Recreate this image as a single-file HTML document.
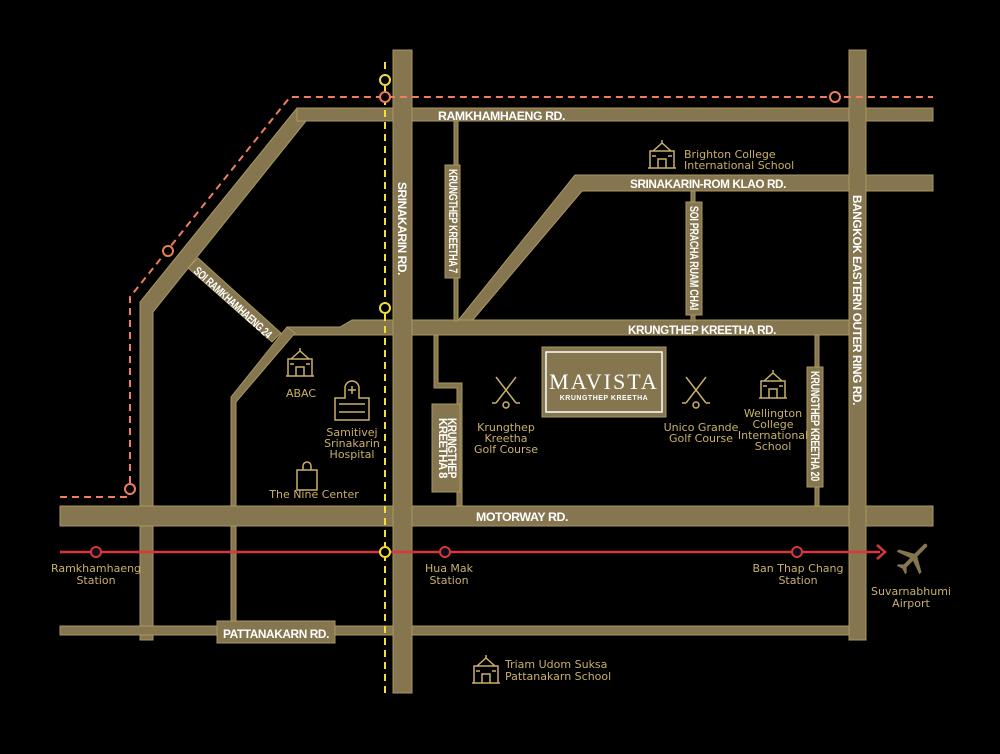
<!DOCTYPE html>
<html><head><meta charset="utf-8"><style>
html,body{margin:0;padding:0;background:#000;}
svg{display:block}
.rl{font-family:"Liberation Sans",sans-serif;font-weight:bold;fill:#fff;font-size:11.8px;letter-spacing:-0.4px}
.lb{font-family:"DejaVu Sans",sans-serif;fill:#c9b06a;font-size:11px;text-anchor:middle}
</style></head><body>
<svg width="1000" height="754" viewBox="0 0 1000 754" xmlns="http://www.w3.org/2000/svg">
<rect width="1000" height="754" fill="#000"/>
<g fill="#857650" stroke="#a8975f" stroke-width="1">
<polygon points="297,108 400,108 400,121 306,121 153,312 153,640 140,640 140,302"/>
<rect x="297" y="108" width="636" height="13"/>
<polygon points="575,175 933,175 933,191 582,191 466,328 452,328"/>
<polygon points="352,320 849,320 849,335 287,335 287,327 340,327"/>
<polygon points="188,268 198,258 281,333 272,342"/>
<polygon points="287,327 295,333 236,402 236,640 231,640 231,397"/>
<rect x="60" y="506" width="873" height="20"/>
<rect x="60" y="626" width="806" height="9"/>
<rect x="217" y="621" width="118" height="22"/>
<rect x="454" y="121" width="4" height="200"/>
<rect x="445" y="165" width="15" height="113"/>
<rect x="691" y="191" width="4" height="130"/>
<rect x="686" y="202" width="16" height="113"/>
<rect x="815" y="335" width="4" height="171"/>
<rect x="807" y="367" width="16" height="120"/>
<polygon points="434,335 438,335 438,383 462,383 462,506 457,506 457,388 434,388"/>
<rect x="432" y="404" width="28" height="88"/>
<rect x="393" y="50" width="19" height="643"/>
<rect x="849" y="50" width="17" height="590"/>
</g>
<rect x="542" y="347" width="124" height="70" fill="#857650" stroke="#a8975f"/>
<rect x="546" y="352" width="116" height="60" fill="none" stroke="#fff" stroke-width="1.5"/>
<text x="604" y="389" text-anchor="middle" font-family="Liberation Serif,serif" font-size="22" fill="#fff" letter-spacing="2">MAVISTA</text>
<text x="604" y="400" text-anchor="middle" font-family="Liberation Sans,sans-serif" font-weight="bold" font-size="7" fill="#fff" letter-spacing="0.5">KRUNGTHEP KREETHA</text>
<text class="rl" x="438" y="120" textLength="127" lengthAdjust="spacingAndGlyphs">RAMKHAMHAENG RD.</text>
<text class="rl" x="630" y="188" textLength="156" lengthAdjust="spacingAndGlyphs">SRINAKARIN-ROM KLAO RD.</text>
<text class="rl" x="628" y="334" textLength="148" lengthAdjust="spacingAndGlyphs">KRUNGTHEP KREETHA RD.</text>
<text class="rl" x="476" y="521" textLength="92" lengthAdjust="spacingAndGlyphs">MOTORWAY RD.</text>
<text class="rl" x="223" y="638" font-size="12" textLength="106" lengthAdjust="spacingAndGlyphs">PATTANAKARN RD.</text>
<text class="rl" transform="translate(398,182) rotate(90)" font-size="12" textLength="93" lengthAdjust="spacingAndGlyphs">SRINAKARIN RD.</text>
<text class="rl" transform="translate(853,195) rotate(90)" font-size="12" textLength="210" lengthAdjust="spacingAndGlyphs">BANGKOK EASTERN OUTER RING RD.</text>
<text class="rl" font-size="8" transform="translate(449,169) rotate(90)" textLength="104" lengthAdjust="spacingAndGlyphs">KRUNGTHEP KREETHA 7</text>
<text class="rl" font-size="8" transform="translate(690,206) rotate(90)" textLength="104" lengthAdjust="spacingAndGlyphs">SOI PRACHA RUAM CHAI</text>
<text class="rl" font-size="8" transform="translate(811,371) rotate(90)" textLength="110" lengthAdjust="spacingAndGlyphs">KRUNGTHEP KREETHA 20</text>
<text class="rl" font-size="8" transform="translate(193,272) rotate(42)" textLength="100" lengthAdjust="spacingAndGlyphs">SOI RAMKHAMHAENG 24</text>
<text class="rl" font-size="8.5" transform="translate(448,418) rotate(90)" textLength="60" lengthAdjust="spacingAndGlyphs">KRUNGTHEP</text>
<text class="rl" font-size="8.5" transform="translate(439,418) rotate(90)" textLength="60" lengthAdjust="spacingAndGlyphs">KREETHA 8</text>
<polyline points="60,497 130,497 130,297 290,97 933,97" fill="none" stroke="#ef7d5f" stroke-width="2" stroke-dasharray="7,5"/>
<line x1="385" y1="62" x2="385" y2="693" stroke="#f5dd3a" stroke-width="2" stroke-dasharray="7,5"/>
<line x1="60" y1="552" x2="880" y2="552" stroke="#d8363a" stroke-width="2.5"/>
<polyline points="877,545 885,552 877,559" fill="none" stroke="#d8363a" stroke-width="2.5"/>
<g stroke="#ef7d5f" stroke-width="2" fill="#000">
<circle cx="130" cy="489" r="5"/><circle cx="168" cy="251" r="5"/><circle cx="385" cy="97" r="5"/><circle cx="835" cy="97" r="5"/>
</g>
<g stroke="#f5dd3a" stroke-width="2" fill="#000">
<circle cx="385" cy="80" r="5"/><circle cx="385" cy="308" r="5"/><circle cx="385" cy="552" r="5"/>
</g>
<g stroke="#d8363a" stroke-width="2" fill="#0a0f1a">
<circle cx="96" cy="552" r="5"/><circle cx="445" cy="552" r="5"/><circle cx="797" cy="552" r="5"/>
</g>
<g fill="none" stroke="#c9b06a" stroke-width="1.5">
<g transform="translate(648,138)"><path d="M0,30 h28 M2,30 v-17 h24 v17 M5,13 l9,-8 l9,8 M14,5 v-3 M10,30 v-9 h8 v9 M4,18 h4 M20,18 h4"/></g>
<g transform="translate(286,346)"><path d="M0,30 h28 M2,30 v-17 h24 v17 M5,13 l9,-8 l9,8 M14,5 v-3 M10,30 v-9 h8 v9 M4,18 h4 M20,18 h4"/></g>
<g transform="translate(759,368)"><path d="M0,30 h28 M2,30 v-17 h24 v17 M5,13 l9,-8 l9,8 M14,5 v-3 M10,30 v-9 h8 v9 M4,18 h4 M20,18 h4"/></g>
<g transform="translate(472,653)"><path d="M0,30 h28 M2,30 v-17 h24 v17 M5,13 l9,-8 l9,8 M14,5 v-3 M10,30 v-9 h8 v9 M4,18 h4 M20,18 h4"/></g>
<g transform="translate(335,398)"><path d="M0,0 h10 v-10 a7,7 0 0 1 14,0 v10 h10 v22 h-34 z M17,-12 v8 M13,-8 h8 M4,6 h26 M4,14 h26"/></g>
<g transform="translate(297,462)"><path d="M0,8 h20 v20 h-20 z M6,8 v-4 a4,4 0 0 1 8,0 v4"/></g>
<g transform="translate(494,377)"><path d="M2,0 L22,26 M22,0 L2,26 M22,26 h4 M2,26 h-4"/><circle cx="12" cy="28" r="3"/></g>
<g transform="translate(684,377)"><path d="M2,0 L22,26 M22,0 L2,26 M22,26 h4 M2,26 h-4"/><circle cx="12" cy="28" r="3"/></g>
</g>
<g transform="translate(913,558) rotate(45)" fill="#857650">
<path d="M-2,-18 Q0,-21 2,-18 L2,-4 L16,4 L16,7 L2,2 L2,11 L6,15 L6,17 L0,15 L-6,17 L-6,15 L-2,11 L-2,2 L-16,7 L-16,4 L-2,-4 Z"/>
</g>
<text class="lb" x="684" y="158" style="text-anchor:start">Brighton College</text>
<text class="lb" x="684" y="169" style="text-anchor:start">International School</text>
<text class="lb" x="301" y="397">ABAC</text>
<text class="lb" x="352" y="436">Samitivej</text>
<text class="lb" x="352" y="447">Srinakarin</text>
<text class="lb" x="352" y="458">Hospital</text>
<text class="lb" x="314" y="498">The Nine Center</text>
<text class="lb" x="506" y="431">Krungthep</text>
<text class="lb" x="506" y="442">Kreetha</text>
<text class="lb" x="506" y="453">Golf Course</text>
<text class="lb" x="701" y="431">Unico Grande</text>
<text class="lb" x="701" y="442">Golf Course</text>
<text class="lb" x="773" y="417">Wellington</text>
<text class="lb" x="773" y="428">College</text>
<text class="lb" x="773" y="439">International</text>
<text class="lb" x="773" y="450">School</text>
<text class="lb" x="96" y="572">Ramkhamhaeng</text>
<text class="lb" x="96" y="584">Station</text>
<text class="lb" x="449" y="572">Hua Mak</text>
<text class="lb" x="449" y="584">Station</text>
<text class="lb" x="798" y="572">Ban Thap Chang</text>
<text class="lb" x="798" y="584">Station</text>
<text class="lb" x="911" y="595">Suvarnabhumi</text>
<text class="lb" x="911" y="607">Airport</text>
<text class="lb" x="505" y="668" style="text-anchor:start">Triam Udom Suksa</text>
<text class="lb" x="505" y="680" style="text-anchor:start">Pattanakarn School</text>
</svg>
</body></html>
